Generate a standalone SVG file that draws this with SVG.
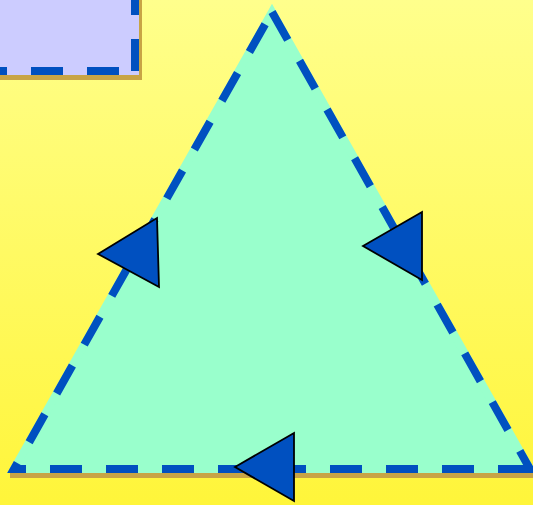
<svg xmlns="http://www.w3.org/2000/svg" width="533" height="505" viewBox="0 0 533 505">
  <defs>
    <linearGradient id="bg" x1="0" y1="0" x2="0" y2="1">
      <stop offset="0" stop-color="#ffff8c"/>
      <stop offset="1" stop-color="#fff53a"/>
    </linearGradient>
    <style>
      .shadow { fill: #c8a445; }
      .edge { fill: none; stroke: #0050c0; stroke-width: 8; stroke-linejoin: miter; stroke-linecap: butt; }
      .arrow { fill: #0050c0; stroke: #000000; stroke-width: 1.8; stroke-linejoin: miter; }
    </style>
  </defs>

  <rect x="0" y="0" width="533" height="505" fill="url(#bg)"/>

  <g id="box">
    <rect class="shadow" x="-20" y="-20" width="162" height="100"/>
    <rect x="-20" y="-20" width="159" height="95" fill="#ccccff"/>
    <path class="edge" d="M135,-17 L135,71 L-40,71" stroke-dasharray="32 24 32 16 32 24"/>
  </g>

  <g id="triangle">
    <rect class="shadow" x="10" y="473" width="530" height="5"/>
    <polygon points="272,12 530,469 14,469" fill="#99ffcc" stroke="#99ffcc" stroke-width="8" stroke-linejoin="miter"/>
    <polygon class="edge" points="272,12 530,469 14,469"
      stroke-dasharray="32 24 32 24 32 24 32 24 32 24 32 24 32 24 32 24 32 24 52.8 24 32 24 32 24 32 24 32 24 32 24 32 24 32 24 32 24 18.8 24 32 24 32 24 32 24 32 24 32 24 32 24 32 24 32 24 32 14"/>
  </g>

  <g id="connectors">
    <polygon id="arrow-left" class="arrow" points="98,254 157,218 159,287"/>
    <polygon id="arrow-right" class="arrow" points="363,246 422,212 422,280"/>
    <polygon id="arrow-bottom" class="arrow" points="235,467 294,433 294,501"/>
  </g>
</svg>
